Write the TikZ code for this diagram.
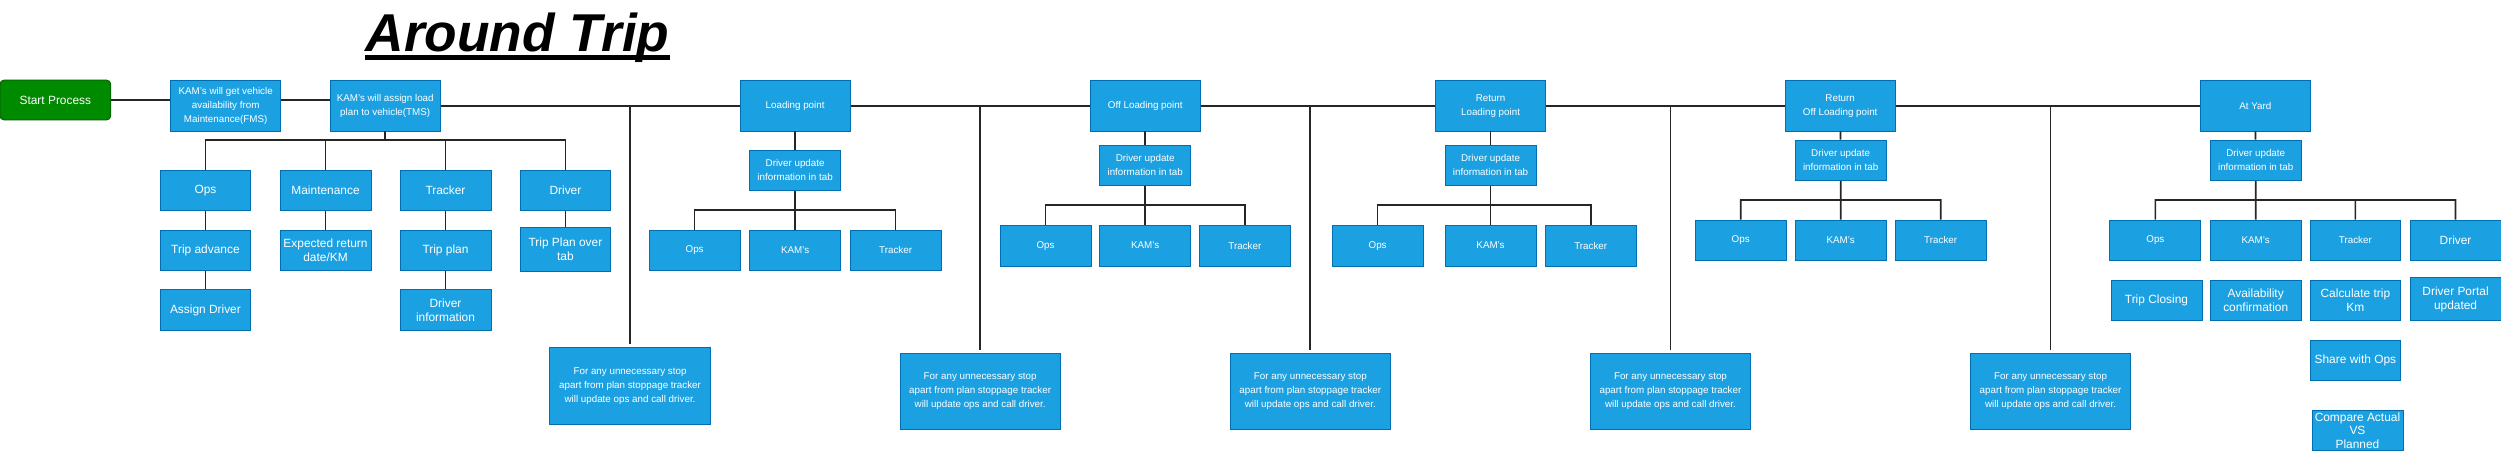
\documentclass[tikz,border=0pt]{standalone}
\usepackage{fontspec}
\setmainfont{Liberation Sans}
\usepackage{xcolor}
\usepackage{tikz}
\usetikzlibrary{calc}

\definecolor{boxblue}{HTML}{1BA1E2}
\definecolor{boxedge}{HTML}{006EAF}
\definecolor{startgreen}{HTML}{008A00}
\definecolor{startedge}{HTML}{005700}

\tikzset{
	box/.style={rectangle, fill=boxblue, draw=boxedge, line width=0.6pt, text=white, align=center, inner sep=1pt},
	bigbox/.style={box, minimum width=2.28cm, minimum height=1.02cm, font=\fontsize{8.5}{9.8}\selectfont},
	smallbox/.style={box, minimum width=2.28cm, minimum height=1.02cm, font=\fontsize{7}{10}\selectfont},
	stagebox/.style={box, minimum width=2.76cm, minimum height=1.26cm, font=\fontsize{7}{10}\selectfont},
	notebox/.style={box, minimum width=4.02cm, minimum height=1.92cm, font=\fontsize{7}{10}\selectfont},
	startbox/.style={box, fill=startgreen, draw=startedge, rounded corners=3pt, minimum width=2.78cm, minimum height=1.0cm, font=\fontsize{8.5}{10}\selectfont},
	link/.style={draw=black!85, line width=1.2pt},
	drop/.style={link, shorten >=2pt}
}

\begin{document}
\begin{tikzpicture}[x=0.04cm, y=-0.04cm]
		\useasboundingbox (0,0) rectangle (1568,283);
		% title
		\node[font=\fontsize{38}{40}\selectfont\bfseries\itshape, inner sep=0, anchor=base west] (TT) at (229,32.4) {Around Trip};
		\draw[line width=3.2pt] ([yshift=-4pt]TT.base west) -- ([yshift=-4pt]TT.base east);
		%
		\node[startbox] (ST) at (34.7,62.7) {Start Process};
		\node[stagebox] (KG) at (141.5,66.4) {KAM's will get vehicle\\availability from\\Maintenance(FMS)};
		\node[stagebox] (KA) at (241.5,66.4) {KAM's will assign load\\plan to vehicle(TMS)};
		\node[stagebox] (LP) at (498.5,66.4) {Loading point};
		\node[stagebox] (OL) at (718,66.4) {Off Loading point};
		\node[stagebox] (RL) at (934.5,66.4) {Return\\Loading point};
		\node[stagebox] (RO) at (1153.7,66.4) {Return\\Off Loading point};
		\node[stagebox] (AY) at (1414,66.4) {At Yard};
		%
		\node[bigbox] (OP) at (128.8,119.3) {Ops};
		\node[bigbox] (MT) at (204.1,119.3) {Maintenance};
		\node[bigbox] (TR) at (279.3,119.3) {Tracker};
		\node[bigbox] (DR) at (354.5,119.3) {Driver};
		\node[bigbox] (TA) at (128.8,157) {Trip advance};
		\node[bigbox] (AD) at (128.8,194.5) {Assign Driver};
		\node[bigbox] (ER) at (204.1,157) {Expected return\\date/KM};
		\node[bigbox] (TP) at (279.3,157) {Trip plan};
		\node[bigbox] (DI) at (279.3,194.5) {Driver\\information};
		\node[bigbox, minimum height=1.1cm] (TO) at (354.5,156.3) {Trip Plan over\\tab};
		%
		\node[smallbox] (DU1) at (498.5,106.8) {Driver update\\information in tab};
		\node[smallbox] (O1) at (435.5,157) {Ops};
		\node[smallbox] (K1) at (498.5,157) {KAM's};
		\node[smallbox] (T1) at (561.5,157) {Tracker};
		%
		\node[smallbox] (DU2) at (718,103.7) {Driver update\\information in tab};
		\node[smallbox] (O2) at (655.5,154) {Ops};
		\node[smallbox] (K2) at (718,154) {KAM's};
		\node[smallbox] (T2) at (780.5,154) {Tracker};
		%
		\node[smallbox] (DU3) at (934.5,103.7) {Driver update\\information in tab};
		\node[smallbox] (O3) at (863.7,154) {Ops};
		\node[smallbox] (K3) at (934.5,154) {KAM's};
		\node[smallbox] (T3) at (997.3,154) {Tracker};
		%
		\node[smallbox] (DU4) at (1154,100.5) {Driver update\\information in tab};
		\node[smallbox] (O4) at (1091.3,150.7) {Ops};
		\node[smallbox] (K4) at (1154,150.7) {KAM's};
		\node[smallbox] (T4) at (1216.7,150.7) {Tracker};
		%
		\node[smallbox] (DU5) at (1414.2,100.5) {Driver update\\information in tab};
		\node[smallbox] (O5) at (1351.3,150.7) {Ops};
		\node[smallbox] (K5) at (1414.2,150.7) {KAM's};
		\node[smallbox] (T5) at (1476.7,150.7) {Tracker};
		\node[bigbox] (DR5) at (1539.5,150.7) {Driver};
		\node[bigbox] (TC) at (1352,188.4) {Trip Closing};
		\node[bigbox] (AC) at (1414.2,188.4) {Availability\\confirmation};
		\node[bigbox] (CK) at (1476.7,188.4) {Calculate trip\\Km};
		\node[bigbox, minimum height=1.08cm] (DP) at (1539.5,187.5) {Driver Portal\\updated};
		\node[bigbox] (SO) at (1476.7,226) {Share with Ops};
		\node[bigbox, inner sep=0pt] (CA) at (1478,269.9) {Compare Actual\\VS\\Planned};
		%
		\node[notebox] (N1) at (395,242) {For any unnecessary stop\\apart from plan stoppage tracker\\will update ops and call driver.};
		\node[notebox] (N2) at (614.5,245.5) {For any unnecessary stop\\apart from plan stoppage tracker\\will update ops and call driver.};
		\node[notebox] (N3) at (821.5,245.5) {For any unnecessary stop\\apart from plan stoppage tracker\\will update ops and call driver.};
		\node[notebox] (N4) at (1047.3,245.5) {For any unnecessary stop\\apart from plan stoppage tracker\\will update ops and call driver.};
		\node[notebox] (N5) at (1285.6,245.5) {For any unnecessary stop\\apart from plan stoppage tracker\\will update ops and call driver.};
		%
		\coordinate (B0) at (241.5,87.8);
		\coordinate (B1) at (498.5,131.7);
		\coordinate (B2) at (718,128.5);
		\coordinate (B3) at (934.5,128.5);
		\coordinate (B4) at (1154,125.4);
		\coordinate (B5) at (1414.2,125.4);
		%
		\draw[link] (ST.east) -- (ST.east -| KG.west)
		(KG.east |- ST.east) -- (ST.east -| KA.west)
		(KA.east) -- (LP.west) (LP.east) -- (OL.west) (OL.east) -- (RL.west)
		(RL.east) -- (RO.west) (RO.east) -- (AY.west);
		\draw[drop] (N1.north |- LP.west) -- (N1.north);
		\draw[drop] (N2.north |- OL.west) -- (N2.north);
		\draw[drop] (N3.north |- RL.west) -- (N3.north);
		\draw[drop] (N4.north |- RO.west) -- (N4.north);
		\draw[drop] (N5.north |- AY.west) -- (N5.north);
		%
		\draw[link] (KA.south) -- (B0) (B0) -| (OP.north) (B0) -| (MT.north) (B0) -| (TR.north) (B0) -| (DR.north);
		\draw[link] (OP) -- (TA) (TA) -- (AD) (MT) -- (ER) (TR) -- (TP) (TP) -- (DI) (DR) -- (TO);
		\draw[link] (LP) -- (DU1) (DU1.south) -- (B1) (B1) -| (O1.north) (B1) -- (K1.north) (B1) -| (T1.north);
		\draw[link] (OL) -- (DU2) (DU2.south) -- (B2) (B2) -| (O2.north) (B2) -- (K2.north) (B2) -| (T2.north);
		\draw[link] (RL) -- (DU3) (DU3.south) -- (B3) (B3) -| (O3.north) (B3) -- (K3.north) (B3) -| (T3.north);
		\draw[link] (RO) -- (DU4) (DU4.south) -- (B4) (B4) -| (O4.north) (B4) -- (K4.north) (B4) -| (T4.north);
		\draw[link] (AY) -- (DU5) (DU5.south) -- (B5) (B5) -| (O5.north) (B5) -- (K5.north) (B5) -| (T5.north) (B5) -| (DR5.north);
\end{tikzpicture}
\end{document}
